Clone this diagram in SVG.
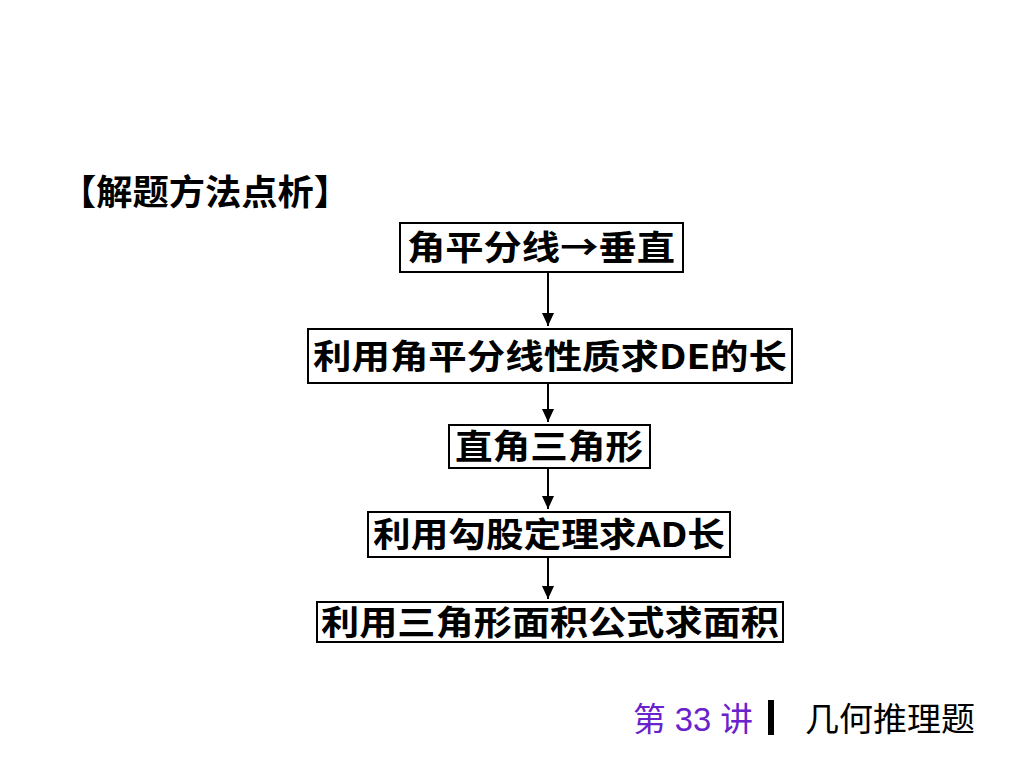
<svg xmlns="http://www.w3.org/2000/svg" width="1024" height="768" viewBox="0 0 1024 768">
<defs>
<style>
.box{fill:#fff;stroke:#000;stroke-width:2}
.bt{font-family:"Noto Sans CJK SC","Noto Sans CJK JP",sans-serif;font-weight:bold;font-size:34px;fill:#000;text-anchor:middle}
.conn{stroke:#000;stroke-width:2;fill:none}
</style>
<marker id="ah" markerWidth="14" markerHeight="12" refX="13" refY="6" orient="auto" markerUnits="userSpaceOnUse">
<path d="M0,0 L13,6 L0,12 Z" fill="#000"/>
</marker>
</defs>
<rect width="1024" height="768" fill="#fff"/>
<text x="60" y="205" font-family="'Noto Sans CJK SC','Noto Sans CJK JP',sans-serif" font-weight="bold" font-size="35" textLength="290" lengthAdjust="spacingAndGlyphs">【解题方法点析】</text>
<g id="connectors">
<line class="conn" x1="548" y1="273" x2="548" y2="326" marker-end="url(#ah)"/>
<line class="conn" x1="548" y1="383" x2="548" y2="422" marker-end="url(#ah)"/>
<line class="conn" x1="548" y1="468" x2="548" y2="509" marker-end="url(#ah)"/>
<line class="conn" x1="548" y1="557" x2="548" y2="599" marker-end="url(#ah)"/>
</g>
<g id="n1">
<rect class="box" x="400" y="223" width="283" height="49"/>
<text class="bt" x="541" y="260" textLength="268" lengthAdjust="spacingAndGlyphs">角平分线→垂直</text>
</g>
<g id="n2">
<rect class="box" x="308" y="329" width="484" height="54"/>
<text class="bt" x="550" y="369" textLength="474" lengthAdjust="spacingAndGlyphs">利用角平分线性质求DE的长</text>
</g>
<g id="n3">
<rect class="box" x="449" y="425" width="201" height="43"/>
<text class="bt" x="549" y="459" textLength="188" lengthAdjust="spacingAndGlyphs">直角三角形</text>
</g>
<g id="n4">
<rect class="box" x="368" y="512" width="362" height="45"/>
<text class="bt" x="549" y="547" textLength="352" lengthAdjust="spacingAndGlyphs">利用勾股定理求AD长</text>
</g>
<g id="n5">
<rect class="box" x="317" y="602" width="466" height="40"/>
<text class="bt" x="550" y="635" textLength="458" lengthAdjust="spacingAndGlyphs">利用三角形面积公式求面积</text>
</g>
<g id="footer">
<text x="633" y="731" font-family="'Liberation Sans','Noto Sans CJK SC',sans-serif" font-size="33" fill="#6A22CC" textLength="120" lengthAdjust="spacingAndGlyphs">第 33 讲</text>
<rect x="768" y="700" width="6" height="35" fill="#000"/>
<text x="805" y="731" font-family="'Noto Sans CJK SC','Noto Sans CJK JP',sans-serif" font-size="33" fill="#000" textLength="170" lengthAdjust="spacingAndGlyphs">几何推理题</text>
</g>
</svg>
